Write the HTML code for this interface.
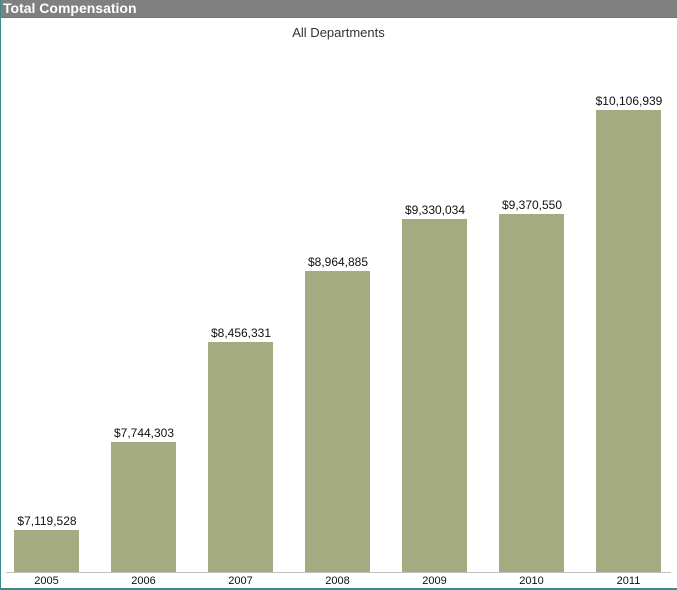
<!DOCTYPE html><html><head><style>
body{margin:0;width:677px;height:590px;background:#fff;overflow:hidden;font-family:"Liberation Sans",Arial,sans-serif;position:relative}
.hd{position:absolute;left:0;top:0;width:677px;height:17px;background:#808080;border-bottom:1px solid #3c8a8a;color:#fff;font-weight:bold;font-size:14px;line-height:17px;text-indent:3px}
.lb{position:absolute;left:0;top:0;width:1px;height:590px;background:#3c8a8a}
.bb{position:absolute;left:0;top:588px;width:677px;height:2px;background:#3c8a8a}
.t{position:absolute;top:25px;left:0;width:677px;text-align:center;font-size:13px;color:#333}
.b{position:absolute;width:65px;background:#a5ab80;bottom:18px}
.v{position:absolute;width:100px;text-align:center;font-size:12px;color:#111}
.y{position:absolute;top:575px;width:65px;text-align:center;font-size:11px;color:#111}
.ax{position:absolute;left:6px;width:665px;top:572px;height:1px;background:#c0c0c0}
</style></head><body>
<div class="hd">Total Compensation</div><div class="lb"></div><div class="bb"></div>
<div class="t">All Departments</div>
<div class="b" style="left:14px;top:530px;height:42px"></div>
<div class="b" style="left:111px;top:442px;height:130px"></div>
<div class="b" style="left:208px;top:342px;height:230px"></div>
<div class="b" style="left:305px;top:271px;height:301px"></div>
<div class="b" style="left:402px;top:219px;height:353px"></div>
<div class="b" style="left:499px;top:214px;height:358px"></div>
<div class="b" style="left:596px;top:110px;height:462px"></div>
<div class="v" style="left:-3px;top:514px">$7,119,528</div>
<div class="v" style="left:94px;top:426px">$7,744,303</div>
<div class="v" style="left:191px;top:326px">$8,456,331</div>
<div class="v" style="left:288px;top:255px">$8,964,885</div>
<div class="v" style="left:385px;top:203px">$9,330,034</div>
<div class="v" style="left:482px;top:198px">$9,370,550</div>
<div class="v" style="left:579px;top:94px">$10,106,939</div>
<div class="ax"></div>
<div class="y" style="left:14px">2005</div><div class="y" style="left:111px">2006</div><div class="y" style="left:208px">2007</div><div class="y" style="left:305px">2008</div><div class="y" style="left:402px">2009</div><div class="y" style="left:499px">2010</div><div class="y" style="left:596px">2011</div>
</body></html>
